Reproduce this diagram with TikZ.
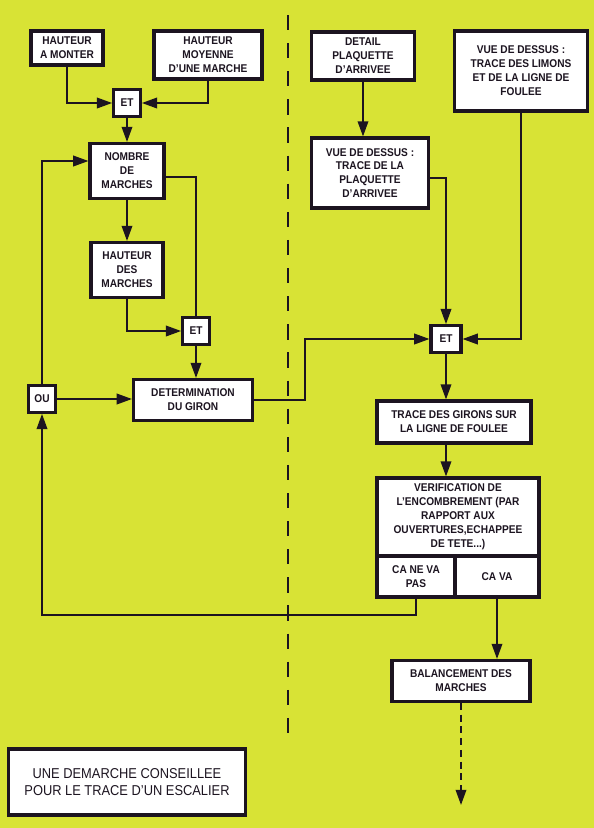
\documentclass[tikz,border=0pt]{standalone}
\usepackage{fontspec}
\setmainfont[FakeStretch=0.9]{Liberation Sans}
\usetikzlibrary{positioning, calc, arrows.meta}
\definecolor{fond}{HTML}{D8E335}
\definecolor{encre}{HTML}{1C1420}

\begin{document}
\begin{tikzpicture}[x=0.03cm, y=-0.03cm,
  boite/.style  = {draw=encre, fill=white, line width=2.6pt, align=center, inner sep=1pt, text=encre, font=\fontsize{9.6}{11.9}\selectfont\bfseries},
  porte/.style  = {boite, minimum width=8mm, minimum height=8mm},
  fleche/.style = {draw=encre, line width=1.6pt, -{Triangle[length=13pt, width=9pt]}},
  trait/.style  = {draw=encre, line width=1.6pt},
  ]

% fond
\fill[fond] (0,0) rectangle (594,828);
\useasboundingbox (0,0) rectangle (594,828);

% separation
\coordinate (sep_haut) at (288,15);
\coordinate (sep_bas)  at (288,738);
\draw[encre, line width=1.3pt, dash pattern=on 13pt off 11pt] (sep_haut) -- (sep_bas);

%--- Nodes : partie gauche ---
% hmonter
\node[boite, minimum width=2.16cm, minimum height=1.02cm] (hmonter) at (67,48) {HAUTEUR\\A MONTER};

% hmoy
\node[boite, minimum width=3.24cm, minimum height=1.44cm] (hmoy) at (208,55) {HAUTEUR\\MOYENNE\\D'UNE MARCHE};

% et1
\node[porte] (et1) at (127,103) {ET};

% nombre
\node[boite, minimum width=2.22cm, minimum height=1.65cm] (nombre) at (127,171) {NOMBRE\\DE\\MARCHES};

% hdes
\node[boite, minimum width=2.16cm, minimum height=1.65cm] (hdes) at (127,270) {HAUTEUR\\DES\\MARCHES};

% et2
\node[porte] (et2) at (196,331) {ET};

% giron
\node[boite, minimum width=3.57cm, minimum height=1.23cm] (giron) at (193,400) {DETERMINATION\\DU GIRON};

% ou
\node[porte] (ou) at (42,399) {OU};

%--- Nodes : partie droite ---
% detail
\node[boite, minimum width=3.09cm, minimum height=1.44cm] (detail) at (363,56) {DETAIL\\PLAQUETTE\\D'ARRIVEE};

% vueplaq
\node[boite, minimum width=3.51cm, minimum height=2.1cm] (vueplaq) at (370,173) {VUE DE DESSUS :\\TRACE DE LA\\PLAQUETTE\\D'ARRIVEE};

% limons
\node[boite, minimum width=3.99cm, minimum height=2.4cm] (limons) at (521,71) {VUE DE DESSUS :\\TRACE DES LIMONS\\ET DE LA LIGNE DE\\FOULEE};

% et3
\node[porte, minimum width=0.9cm] (et3) at (446,339) {ET};

% girons
\node[boite, minimum width=4.62cm, minimum height=1.26cm] (girons) at (454,422) {TRACE DES GIRONS SUR\\LA LIGNE DE FOULEE};

% verif
\node[boite, minimum width=4.86cm, minimum height=2.34cm] (verif) at (458,517) {VERIFICATION DE\\L'ENCOMBREMENT (PAR\\RAPPORT AUX\\OUVERTURES,ECHAPPEE\\DE TETE...)};

% canepas / cava
\node[boite, minimum width=2.34cm, minimum height=1.23cm] (canepas) at (416,576.5) {CA NE VA\\PAS};
\node[boite, minimum width=2.52cm, minimum height=1.23cm] (cava) at (497,576.5) {CA VA};

% balance
\node[boite, minimum width=4.14cm, minimum height=1.23cm] (balance) at (461,681) {BALANCEMENT DES\\MARCHES};

% titre
\node[boite, minimum width=7.11cm, minimum height=1.98cm, font=\fontsize{12.2}{14.2}\selectfont] (titre) at (127,782) {UNE DEMARCHE CONSEILLEE\\POUR LE TRACE D'UN ESCALIER};

%--- hmonter, hmoy -> et1 -> nombre ---
\draw[fleche] (hmonter.south) |- (et1.west);
\draw[fleche] (hmoy.south) |- (et1.east);
\draw[fleche] (et1) -- (nombre);

%--- nombre -> hdes, nombre -> et2 ---
\draw[fleche] (nombre) -- (hdes);
\draw[trait] ([yshift=-0.18cm]nombre.east) -| (et2.north);
\draw[fleche] (hdes.south) |- (et2.west);

%--- et2 -> giron, ou -> giron, ou -> nombre ---
\draw[fleche] (et2) -- (et2 |- giron.north);
\draw[fleche] (ou) -- (ou -| giron.west);
\draw[fleche] (ou.north) |- ([yshift=0.3cm]nombre.west);

%--- giron -> et3 ---
\coordinate (coude) at (305,0);
\draw[fleche] (giron.east) -- (giron.east -| coude) |- (et3.west);

%--- detail -> vueplaq -> et3, limons -> et3 ---
\draw[fleche] (detail) -- (detail |- vueplaq.north);
\draw[fleche] ([yshift=-0.15cm]vueplaq.east) -| (et3.north);
\draw[fleche] (limons.south) |- (et3.east);

%--- et3 -> girons -> verif ---
\draw[fleche] (et3) -- (et3 |- girons.north);
\draw[fleche] (et3 |- girons.south) -- (et3 |- verif.north);

%--- retour : canepas -> ou ---
\coordinate (retour) at (0,615);
\draw[fleche] (canepas.south) -- (canepas.south |- retour) -| (ou.south);

%--- cava -> balance -> suite ---
\draw[fleche] (cava.south) -- (cava.south |- balance.north);
\coordinate (suite) at (461,805);
\draw[fleche, dash pattern=on 6pt off 4pt] (balance.south) -- (suite);

\end{tikzpicture}
\end{document}
